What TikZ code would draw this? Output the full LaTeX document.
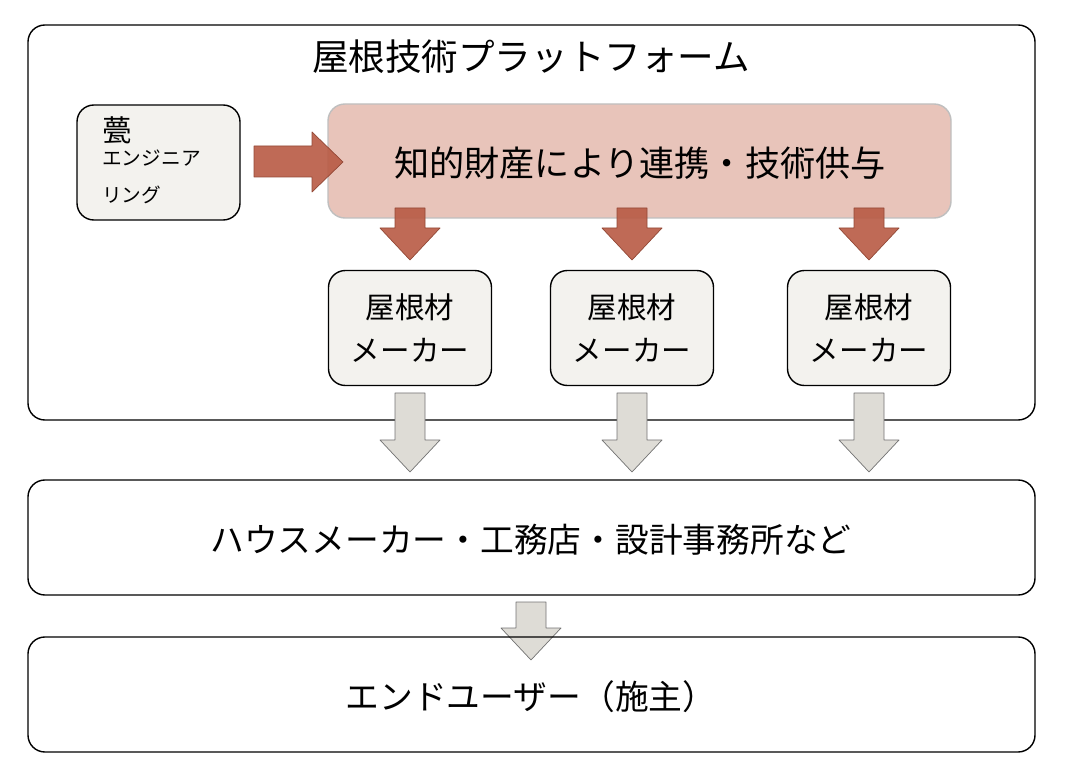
\documentclass[tikz,border=0pt]{standalone}
\usepackage{fontspec}
\setmainfont{Noto Sans CJK JP}
\usetikzlibrary{positioning}
\definecolor{boxgray}{HTML}{F3F2EE}
\definecolor{pinkfill}{HTML}{E8C4BA}
\definecolor{redarrow}{HTML}{B85A44}
\definecolor{grayarrow}{HTML}{DEDCD6}
\tikzset{
  box/.style={draw=black,line width=1pt,rounded corners=12pt},
  maker/.style={box,fill=boxgray,minimum width=163*0.025cm,minimum height=115*0.025cm,
    align=center,font=\fontsize{21}{30}\selectfont},
  redarr/.style={fill=redarrow,fill opacity=.9,draw=redarrow!80!black,line width=.5pt},
  grayarr/.style={fill=grayarrow,draw=black!55,line width=.5pt},
}
% down arrow centred at x, from y1 to y2 (pixel units)
\newcommand\downarr[4]{\path[#1] (#2-15,#3)--(#2+15,#3)--(#2+15,#4-32)--(#2+30,#4-32)--(#2,#4)
  --(#2-30,#4-32)--(#2-15,#4-32)--cycle;}
\begin{document}
\begin{tikzpicture}[x=0.025cm,y=-0.025cm,line join=round]
\useasboundingbox (0,0) rectangle (1072,780);
% platform frame
\draw[box] (28,25) rectangle (1035,420);
\node[font=\fontsize{26}{30}\selectfont] (title) at (531,57) {屋根技術プラットフォーム};
% left box
\draw[box,fill=boxgray] (77,105) rectangle (240,220);
\node[anchor=north west,inner sep=0pt,font=\fontsize{21}{24}\selectfont] (iraka) at (102,116) {甍};
\node[anchor=north west,inner sep=0pt,align=left,font=\fontsize{14}{26}\selectfont] (eng) at (102,150) {エンジニア\\リング};
% pink box
\draw[rounded corners=12pt,fill=pinkfill,draw=black!25,line width=1pt] (328,104) rectangle (951,218);
\node[font=\fontsize{25}{30}\selectfont] (ip) at (640,163) {知的財産により連携・技術供与};
\path[redarr] (254,146)--(312,146)--(312,132)--(343,162)--(312,192)--(312,177)--(254,177)--cycle;
% makers
\foreach \x/\n in {410/m1,632/m2,869/m3}{
  \downarr{redarr}{\x}{208}{260}
  \node[maker] (\n) at (\x,328) {屋根材\\メーカー};
  \downarr{grayarr}{\x}{393}{472}
}
% lower boxes
\draw[box] (28,480) rectangle (1035,595);
\node[font=\fontsize{24}{30}\selectfont] (house) at (531,540) {ハウスメーカー・工務店・設計事務所など};
\downarr{grayarr}{531}{602}{660}
\draw[box] (28,637) rectangle (1035,752);
\node[font=\fontsize{24}{30}\selectfont] (user) at (531,697) {エンドユーザー（施主）};
\end{tikzpicture}
\end{document}
